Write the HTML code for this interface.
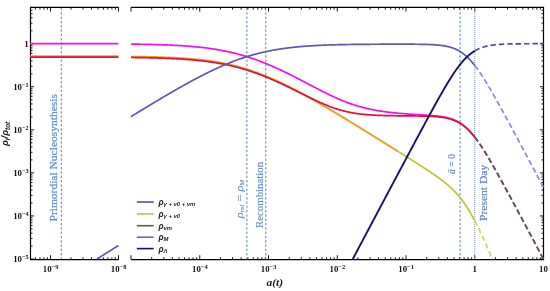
<!DOCTYPE html>
<html><head><meta charset="utf-8"><style>
html,body{margin:0;padding:0;background:#fff;}
body{width:550px;height:291px;overflow:hidden;position:relative;}
svg{position:absolute;left:0;top:0;will-change:transform;}
.tk{font-family:"Liberation Serif",serif;font-size:8.8px;fill:#111;font-weight:bold;}
.vt{font-family:"Liberation Serif",serif;font-size:10.4px;fill:#5d8cc0;}
.lg{font-family:"Liberation Sans",sans-serif;font-style:italic;font-weight:bold;fill:#1a1a1a;}
.ax{font-family:"Liberation Sans",sans-serif;font-style:italic;font-weight:bold;fill:#1a1a1a;}
.axs{font-family:"Liberation Serif",serif;font-style:italic;font-weight:bold;fill:#1a1a1a;}
</style></head><body>
<svg width="550" height="291" viewBox="0 0 550 291">
<path d="M118.60 7.35 L30.50 7.35 L30.50 259.55 L118.60 259.55" stroke="#000" stroke-width="1.2" fill="none"/>
<path d="M131.00 7.35 L543.50 7.35 L543.50 259.55 L131.00 259.55" stroke="#000" stroke-width="1.2" fill="none"/>
<path d="M35.41 259.55 v-2.30 M35.41 7.35 v2.30 M39.97 259.55 v-2.30 M39.97 7.35 v2.30 M43.91 259.55 v-2.30 M43.91 7.35 v2.30 M47.39 259.55 v-2.30 M47.39 7.35 v2.30 M50.50 259.55 v-4.30 M50.50 7.35 v4.30 M70.97 259.55 v-2.30 M70.97 7.35 v2.30 M82.94 259.55 v-2.30 M82.94 7.35 v2.30 M91.44 259.55 v-2.30 M91.44 7.35 v2.30 M98.03 259.55 v-2.30 M98.03 7.35 v2.30 M103.41 259.55 v-2.30 M103.41 7.35 v2.30 M107.97 259.55 v-2.30 M107.97 7.35 v2.30 M111.91 259.55 v-2.30 M111.91 7.35 v2.30 M115.39 259.55 v-2.30 M115.39 7.35 v2.30 M118.50 259.55 v-4.30 M118.50 7.35 v4.30 M131.00 259.55 v-4.30 M131.00 7.35 v4.30 M151.70 259.55 v-2.30 M151.70 7.35 v2.30 M163.80 259.55 v-2.30 M163.80 7.35 v2.30 M172.39 259.55 v-2.30 M172.39 7.35 v2.30 M179.05 259.55 v-2.30 M179.05 7.35 v2.30 M184.50 259.55 v-2.30 M184.50 7.35 v2.30 M189.10 259.55 v-2.30 M189.10 7.35 v2.30 M193.09 259.55 v-2.30 M193.09 7.35 v2.30 M196.60 259.55 v-2.30 M196.60 7.35 v2.30 M199.75 259.55 v-4.30 M199.75 7.35 v4.30 M220.45 259.55 v-2.30 M220.45 7.35 v2.30 M232.55 259.55 v-2.30 M232.55 7.35 v2.30 M241.14 259.55 v-2.30 M241.14 7.35 v2.30 M247.80 259.55 v-2.30 M247.80 7.35 v2.30 M253.25 259.55 v-2.30 M253.25 7.35 v2.30 M257.85 259.55 v-2.30 M257.85 7.35 v2.30 M261.84 259.55 v-2.30 M261.84 7.35 v2.30 M265.35 259.55 v-2.30 M265.35 7.35 v2.30 M268.50 259.55 v-4.30 M268.50 7.35 v4.30 M289.20 259.55 v-2.30 M289.20 7.35 v2.30 M301.30 259.55 v-2.30 M301.30 7.35 v2.30 M309.89 259.55 v-2.30 M309.89 7.35 v2.30 M316.55 259.55 v-2.30 M316.55 7.35 v2.30 M322.00 259.55 v-2.30 M322.00 7.35 v2.30 M326.60 259.55 v-2.30 M326.60 7.35 v2.30 M330.59 259.55 v-2.30 M330.59 7.35 v2.30 M334.10 259.55 v-2.30 M334.10 7.35 v2.30 M337.25 259.55 v-4.30 M337.25 7.35 v4.30 M357.95 259.55 v-2.30 M357.95 7.35 v2.30 M370.05 259.55 v-2.30 M370.05 7.35 v2.30 M378.64 259.55 v-2.30 M378.64 7.35 v2.30 M385.30 259.55 v-2.30 M385.30 7.35 v2.30 M390.75 259.55 v-2.30 M390.75 7.35 v2.30 M395.35 259.55 v-2.30 M395.35 7.35 v2.30 M399.34 259.55 v-2.30 M399.34 7.35 v2.30 M402.85 259.55 v-2.30 M402.85 7.35 v2.30 M406.00 259.55 v-4.30 M406.00 7.35 v4.30 M426.70 259.55 v-2.30 M426.70 7.35 v2.30 M438.80 259.55 v-2.30 M438.80 7.35 v2.30 M447.39 259.55 v-2.30 M447.39 7.35 v2.30 M454.05 259.55 v-2.30 M454.05 7.35 v2.30 M459.50 259.55 v-2.30 M459.50 7.35 v2.30 M464.10 259.55 v-2.30 M464.10 7.35 v2.30 M468.09 259.55 v-2.30 M468.09 7.35 v2.30 M471.60 259.55 v-2.30 M471.60 7.35 v2.30 M474.75 259.55 v-4.30 M474.75 7.35 v4.30 M495.45 259.55 v-2.30 M495.45 7.35 v2.30 M507.55 259.55 v-2.30 M507.55 7.35 v2.30 M516.14 259.55 v-2.30 M516.14 7.35 v2.30 M522.80 259.55 v-2.30 M522.80 7.35 v2.30 M528.25 259.55 v-2.30 M528.25 7.35 v2.30 M532.85 259.55 v-2.30 M532.85 7.35 v2.30 M536.84 259.55 v-2.30 M536.84 7.35 v2.30 M540.35 259.55 v-2.30 M540.35 7.35 v2.30 M543.50 259.55 v-4.30 M543.50 7.35 v4.30 M30.50 259.00 h3.60 M543.50 259.00 h-3.60 M30.50 246.04 h2.00 M543.50 246.04 h-2.00 M30.50 238.46 h2.00 M543.50 238.46 h-2.00 M30.50 233.08 h2.00 M543.50 233.08 h-2.00 M30.50 228.90 h2.00 M543.50 228.90 h-2.00 M30.50 225.49 h2.00 M543.50 225.49 h-2.00 M30.50 222.61 h2.00 M543.50 222.61 h-2.00 M30.50 220.11 h2.00 M543.50 220.11 h-2.00 M30.50 217.91 h2.00 M543.50 217.91 h-2.00 M30.50 215.94 h3.60 M543.50 215.94 h-3.60 M30.50 202.98 h2.00 M543.50 202.98 h-2.00 M30.50 195.40 h2.00 M543.50 195.40 h-2.00 M30.50 190.02 h2.00 M543.50 190.02 h-2.00 M30.50 185.84 h2.00 M543.50 185.84 h-2.00 M30.50 182.43 h2.00 M543.50 182.43 h-2.00 M30.50 179.55 h2.00 M543.50 179.55 h-2.00 M30.50 177.05 h2.00 M543.50 177.05 h-2.00 M30.50 174.85 h2.00 M543.50 174.85 h-2.00 M30.50 172.88 h3.60 M543.50 172.88 h-3.60 M30.50 159.92 h2.00 M543.50 159.92 h-2.00 M30.50 152.34 h2.00 M543.50 152.34 h-2.00 M30.50 146.96 h2.00 M543.50 146.96 h-2.00 M30.50 142.78 h2.00 M543.50 142.78 h-2.00 M30.50 139.37 h2.00 M543.50 139.37 h-2.00 M30.50 136.49 h2.00 M543.50 136.49 h-2.00 M30.50 133.99 h2.00 M543.50 133.99 h-2.00 M30.50 131.79 h2.00 M543.50 131.79 h-2.00 M30.50 129.82 h3.60 M543.50 129.82 h-3.60 M30.50 116.86 h2.00 M543.50 116.86 h-2.00 M30.50 109.28 h2.00 M543.50 109.28 h-2.00 M30.50 103.90 h2.00 M543.50 103.90 h-2.00 M30.50 99.72 h2.00 M543.50 99.72 h-2.00 M30.50 96.31 h2.00 M543.50 96.31 h-2.00 M30.50 93.43 h2.00 M543.50 93.43 h-2.00 M30.50 90.93 h2.00 M543.50 90.93 h-2.00 M30.50 88.73 h2.00 M543.50 88.73 h-2.00 M30.50 86.76 h3.60 M543.50 86.76 h-3.60 M30.50 73.80 h2.00 M543.50 73.80 h-2.00 M30.50 66.22 h2.00 M543.50 66.22 h-2.00 M30.50 60.84 h2.00 M543.50 60.84 h-2.00 M30.50 56.66 h2.00 M543.50 56.66 h-2.00 M30.50 53.25 h2.00 M543.50 53.25 h-2.00 M30.50 50.37 h2.00 M543.50 50.37 h-2.00 M30.50 47.87 h2.00 M543.50 47.87 h-2.00 M30.50 45.67 h2.00 M543.50 45.67 h-2.00 M30.50 43.70 h3.60 M543.50 43.70 h-3.60 M30.50 30.74 h2.00 M543.50 30.74 h-2.00 M30.50 23.16 h2.00 M543.50 23.16 h-2.00 M30.50 17.78 h2.00 M543.50 17.78 h-2.00 M30.50 13.60 h2.00 M543.50 13.60 h-2.00 M30.50 10.19 h2.00 M543.50 10.19 h-2.00 M30.50 7.31 h2.00 M543.50 7.31 h-2.00" stroke="#000" stroke-width="0.9" fill="none"/>
<path d="M61.30 7.95 V259.55" stroke="#5584b4" stroke-width="1" stroke-dasharray="2.4 1.9" fill="none"/>
<path d="M246.90 7.95 V259.55" stroke="#5584b4" stroke-width="1" stroke-dasharray="2.4 1.9" fill="none"/>
<path d="M265.80 7.95 V259.55" stroke="#5584b4" stroke-width="1" stroke-dasharray="2.4 1.9" fill="none"/>
<path d="M460.10 7.95 V259.55" stroke="#5584b4" stroke-width="1" stroke-dasharray="2.4 1.9" fill="none"/>
<path d="M474.75 7.95 V259.55" stroke="#7d94cc" stroke-width="1" stroke-dasharray="1 1" fill="none"/>
<path d="M30.03 43.70 L30.71 43.70 L31.39 43.70 L32.07 43.70 L32.75 43.70 L33.43 43.70 L34.11 43.70 L34.79 43.70 L35.47 43.70 L36.15 43.70 L36.83 43.70 L37.51 43.70 L38.19 43.70 L38.87 43.70 L39.55 43.70 L40.23 43.70 L40.91 43.70 L41.59 43.70 L42.27 43.70 L42.95 43.70 L43.63 43.70 L44.31 43.70 L44.99 43.70 L45.67 43.70 L46.35 43.70 L47.03 43.70 L47.71 43.70 L48.39 43.70 L49.07 43.70 L49.75 43.70 L50.43 43.70 L51.11 43.70 L51.79 43.70 L52.47 43.70 L53.15 43.70 L53.83 43.70 L54.51 43.70 L55.19 43.70 L55.87 43.70 L56.55 43.70 L57.23 43.70 L57.91 43.70 L58.59 43.70 L59.27 43.70 L59.95 43.70 L60.63 43.70 L61.31 43.70 L61.99 43.70 L62.67 43.70 L63.35 43.70 L64.03 43.70 L64.71 43.70 L65.39 43.70 L66.07 43.70 L66.75 43.70 L67.43 43.70 L68.11 43.70 L68.79 43.70 L69.47 43.70 L70.15 43.70 L70.83 43.70 L71.51 43.70 L72.19 43.70 L72.87 43.70 L73.55 43.70 L74.23 43.70 L74.91 43.70 L75.59 43.70 L76.27 43.70 L76.95 43.70 L77.63 43.70 L78.31 43.70 L78.99 43.70 L79.67 43.70 L80.35 43.70 L81.03 43.70 L81.71 43.70 L82.39 43.70 L83.07 43.70 L83.75 43.70 L84.43 43.70 L85.11 43.70 L85.79 43.70 L86.47 43.70 L87.15 43.70 L87.83 43.70 L88.51 43.70 L89.19 43.70 L89.87 43.70 L90.55 43.70 L91.23 43.70 L91.91 43.70 L92.59 43.70 L93.27 43.70 L93.95 43.70 L94.63 43.70 L95.31 43.70 L95.99 43.70 L96.67 43.70 L97.35 43.70 L98.03 43.70 L98.71 43.70 L99.39 43.70 L100.07 43.70 L100.75 43.70 L101.43 43.70 L102.11 43.70 L102.79 43.70 L103.47 43.70 L104.15 43.70 L104.83 43.70 L105.51 43.70 L106.19 43.70 L106.87 43.70 L107.55 43.70 L108.23 43.70 L108.91 43.70 L109.59 43.70 L110.27 43.70 L110.95 43.70 L111.63 43.70 L112.31 43.70 L112.99 43.70 L113.67 43.70 L114.35 43.70 L115.03 43.70 L115.71 43.70 L116.39 43.70 L117.07 43.70 L117.75 43.70 L118.43 43.70" stroke="#f80cf0" stroke-width="1.7" fill="none" stroke-linejoin="round"/>
<path d="M30.03 56.24 L30.71 56.24 L31.39 56.24 L32.07 56.24 L32.75 56.24 L33.43 56.24 L34.11 56.24 L34.79 56.24 L35.47 56.24 L36.15 56.24 L36.83 56.24 L37.51 56.24 L38.19 56.24 L38.87 56.24 L39.55 56.24 L40.23 56.24 L40.91 56.24 L41.59 56.24 L42.27 56.24 L42.95 56.24 L43.63 56.24 L44.31 56.24 L44.99 56.24 L45.67 56.24 L46.35 56.24 L47.03 56.24 L47.71 56.24 L48.39 56.24 L49.07 56.24 L49.75 56.24 L50.43 56.24 L51.11 56.24 L51.79 56.24 L52.47 56.24 L53.15 56.24 L53.83 56.24 L54.51 56.24 L55.19 56.24 L55.87 56.24 L56.55 56.24 L57.23 56.24 L57.91 56.24 L58.59 56.24 L59.27 56.24 L59.95 56.24 L60.63 56.24 L61.31 56.24 L61.99 56.24 L62.67 56.24 L63.35 56.24 L64.03 56.24 L64.71 56.24 L65.39 56.24 L66.07 56.24 L66.75 56.24 L67.43 56.24 L68.11 56.24 L68.79 56.24 L69.47 56.24 L70.15 56.24 L70.83 56.24 L71.51 56.24 L72.19 56.24 L72.87 56.24 L73.55 56.24 L74.23 56.24 L74.91 56.24 L75.59 56.24 L76.27 56.24 L76.95 56.24 L77.63 56.24 L78.31 56.24 L78.99 56.24 L79.67 56.24 L80.35 56.24 L81.03 56.24 L81.71 56.24 L82.39 56.24 L83.07 56.24 L83.75 56.24 L84.43 56.24 L85.11 56.24 L85.79 56.24 L86.47 56.24 L87.15 56.24 L87.83 56.24 L88.51 56.24 L89.19 56.24 L89.87 56.24 L90.55 56.24 L91.23 56.24 L91.91 56.24 L92.59 56.24 L93.27 56.24 L93.95 56.24 L94.63 56.24 L95.31 56.24 L95.99 56.24 L96.67 56.24 L97.35 56.24 L98.03 56.24 L98.71 56.24 L99.39 56.24 L100.07 56.24 L100.75 56.24 L101.43 56.24 L102.11 56.24 L102.79 56.24 L103.47 56.24 L104.15 56.24 L104.83 56.24 L105.51 56.24 L106.19 56.24 L106.87 56.24 L107.55 56.24 L108.23 56.24 L108.91 56.24 L109.59 56.24 L110.27 56.24 L110.95 56.24 L111.63 56.24 L112.31 56.24 L112.99 56.24 L113.67 56.24 L114.35 56.24 L115.03 56.24 L115.71 56.24 L116.39 56.24 L117.07 56.24 L117.75 56.24 L118.43 56.24" stroke="#e8a030" stroke-width="2.0" fill="none" stroke-linejoin="round"/>
<path d="M30.03 57.10 L30.71 57.10 L31.39 57.10 L32.07 57.10 L32.75 57.10 L33.43 57.10 L34.11 57.10 L34.79 57.10 L35.47 57.10 L36.15 57.10 L36.83 57.10 L37.51 57.10 L38.19 57.10 L38.87 57.10 L39.55 57.10 L40.23 57.10 L40.91 57.10 L41.59 57.10 L42.27 57.10 L42.95 57.10 L43.63 57.10 L44.31 57.10 L44.99 57.10 L45.67 57.10 L46.35 57.10 L47.03 57.10 L47.71 57.10 L48.39 57.10 L49.07 57.10 L49.75 57.10 L50.43 57.10 L51.11 57.10 L51.79 57.10 L52.47 57.10 L53.15 57.10 L53.83 57.10 L54.51 57.10 L55.19 57.10 L55.87 57.10 L56.55 57.10 L57.23 57.10 L57.91 57.10 L58.59 57.10 L59.27 57.10 L59.95 57.10 L60.63 57.10 L61.31 57.10 L61.99 57.10 L62.67 57.10 L63.35 57.10 L64.03 57.10 L64.71 57.10 L65.39 57.10 L66.07 57.10 L66.75 57.10 L67.43 57.10 L68.11 57.10 L68.79 57.10 L69.47 57.10 L70.15 57.10 L70.83 57.10 L71.51 57.10 L72.19 57.10 L72.87 57.10 L73.55 57.10 L74.23 57.10 L74.91 57.10 L75.59 57.10 L76.27 57.10 L76.95 57.10 L77.63 57.10 L78.31 57.10 L78.99 57.10 L79.67 57.10 L80.35 57.10 L81.03 57.10 L81.71 57.10 L82.39 57.10 L83.07 57.10 L83.75 57.10 L84.43 57.10 L85.11 57.10 L85.79 57.10 L86.47 57.10 L87.15 57.10 L87.83 57.10 L88.51 57.10 L89.19 57.10 L89.87 57.10 L90.55 57.10 L91.23 57.10 L91.91 57.10 L92.59 57.10 L93.27 57.10 L93.95 57.10 L94.63 57.10 L95.31 57.10 L95.99 57.10 L96.67 57.10 L97.35 57.10 L98.03 57.10 L98.71 57.10 L99.39 57.10 L100.07 57.10 L100.75 57.10 L101.43 57.10 L102.11 57.10 L102.79 57.10 L103.47 57.10 L104.15 57.10 L104.83 57.10 L105.51 57.10 L106.19 57.10 L106.87 57.10 L107.55 57.10 L108.23 57.10 L108.91 57.10 L109.59 57.10 L110.27 57.10 L110.95 57.10 L111.63 57.10 L112.31 57.10 L112.99 57.10 L113.67 57.10 L114.35 57.10 L115.03 57.10 L115.71 57.10 L116.39 57.10 L117.07 57.10 L117.75 57.10 L118.43 57.10" stroke="#e0103c" stroke-width="1.7" fill="none" stroke-linejoin="round"/>
<path d="M96.92 259.10 L97.35 258.83 L98.03 258.40 L98.71 257.97 L99.39 257.54 L100.07 257.11 L100.75 256.67 L101.43 256.24 L102.11 255.81 L102.79 255.38 L103.47 254.95 L104.15 254.52 L104.83 254.09 L105.51 253.66 L106.19 253.23 L106.87 252.80 L107.55 252.37 L108.23 251.94 L108.91 251.51 L109.59 251.08 L110.27 250.65 L110.95 250.22 L111.63 249.79 L112.31 249.35 L112.99 248.92 L113.67 248.49 L114.35 248.06 L115.03 247.63 L115.71 247.20 L116.39 246.77 L117.07 246.34 L117.75 245.91 L118.43 245.48" stroke="#5e56b8" stroke-width="1.7" fill="none" stroke-linejoin="round"/>

<path d="M131.00 44.08 L131.69 44.09 L132.37 44.10 L133.06 44.11 L133.75 44.12 L134.44 44.13 L135.12 44.14 L135.81 44.15 L136.50 44.16 L137.19 44.17 L137.87 44.18 L138.56 44.19 L139.25 44.20 L139.94 44.21 L140.62 44.23 L141.31 44.24 L142.00 44.25 L142.69 44.26 L143.37 44.28 L144.06 44.29 L144.75 44.30 L145.44 44.32 L146.12 44.33 L146.81 44.34 L147.50 44.36 L148.19 44.37 L148.87 44.39 L149.56 44.41 L150.25 44.42 L150.94 44.44 L151.62 44.46 L152.31 44.47 L153.00 44.49 L153.69 44.51 L154.37 44.53 L155.06 44.55 L155.75 44.56 L156.44 44.58 L157.12 44.60 L157.81 44.62 L158.50 44.65 L159.19 44.67 L159.87 44.69 L160.56 44.71 L161.25 44.73 L161.94 44.76 L162.62 44.78 L163.31 44.81 L164.00 44.83 L164.69 44.86 L165.37 44.88 L166.06 44.91 L166.75 44.94 L167.44 44.97 L168.12 44.99 L168.81 45.02 L169.50 45.05 L170.19 45.08 L170.87 45.11 L171.56 45.15 L172.25 45.18 L172.94 45.21 L173.62 45.24 L174.31 45.28 L175.00 45.31 L175.69 45.35 L176.37 45.39 L177.06 45.42 L177.75 45.46 L178.44 45.50 L179.12 45.54 L179.81 45.58 L180.50 45.62 L181.19 45.67 L181.87 45.71 L182.56 45.76 L183.25 45.80 L183.94 45.85 L184.62 45.89 L185.31 45.94 L186.00 45.99 L186.69 46.04 L187.37 46.09 L188.06 46.14 L188.75 46.20 L189.44 46.25 L190.12 46.31 L190.81 46.36 L191.50 46.42 L192.19 46.48 L192.87 46.54 L193.56 46.60 L194.25 46.66 L194.94 46.73 L195.62 46.79 L196.31 46.86 L197.00 46.93 L197.69 47.00 L198.37 47.07 L199.06 47.14 L199.75 47.21 L200.44 47.29 L201.12 47.36 L201.81 47.44 L202.50 47.52 L203.19 47.60 L203.87 47.68 L204.56 47.76 L205.25 47.85 L205.94 47.93 L206.62 48.02 L207.31 48.11 L208.00 48.20 L208.69 48.30 L209.37 48.39 L210.06 48.49 L210.75 48.59 L211.44 48.69 L212.12 48.79 L212.81 48.89 L213.50 49.00 L214.19 49.10 L214.87 49.21 L215.56 49.32 L216.25 49.44 L216.94 49.55 L217.62 49.67 L218.31 49.79 L219.00 49.91 L219.69 50.03 L220.37 50.15 L221.06 50.28 L221.75 50.41 L222.44 50.54 L223.12 50.67 L223.81 50.81 L224.50 50.94 L225.19 51.08 L225.87 51.23 L226.56 51.37 L227.25 51.52 L227.94 51.66 L228.62 51.81 L229.31 51.97 L230.00 52.12 L230.69 52.28 L231.37 52.44 L232.06 52.60 L232.75 52.76 L233.44 52.93 L234.12 53.10 L234.81 53.27 L235.50 53.44 L236.19 53.62 L236.87 53.80 L237.56 53.98 L238.25 54.16 L238.94 54.35 L239.62 54.54 L240.31 54.73 L241.00 54.92 L241.69 55.12 L242.37 55.31 L243.06 55.51 L243.75 55.72 L244.44 55.92 L245.12 56.13 L245.81 56.34 L246.50 56.55 L247.19 56.77 L247.87 56.98 L248.56 57.20 L249.25 57.43 L249.94 57.65 L250.62 57.88 L251.31 58.11 L252.00 58.34 L252.69 58.58 L253.37 58.81 L254.06 59.05 L254.75 59.29 L255.44 59.54 L256.12 59.79 L256.81 60.03 L257.50 60.29 L258.19 60.54 L258.87 60.80 L259.56 61.05 L260.25 61.32 L260.94 61.58 L261.62 61.84 L262.31 62.11 L263.00 62.38 L263.69 62.66 L264.37 62.93 L265.06 63.21 L265.75 63.49 L266.44 63.77 L267.12 64.05 L267.81 64.34 L268.50 64.62 L269.19 64.91 L269.87 65.21 L270.56 65.50 L271.25 65.80 L271.94 66.09 L272.62 66.39 L273.31 66.70 L274.00 67.00 L274.69 67.31 L275.37 67.61 L276.06 67.92 L276.75 68.23 L277.44 68.55 L278.12 68.86 L278.81 69.18 L279.50 69.50 L280.19 69.82 L280.87 70.14 L281.56 70.47 L282.25 70.79 L282.94 71.12 L283.62 71.45 L284.31 71.78 L285.00 72.11 L285.69 72.44 L286.37 72.78 L287.06 73.11 L287.75 73.45 L288.44 73.79 L289.12 74.13 L289.81 74.47 L290.50 74.81 L291.19 75.15 L291.87 75.50 L292.56 75.84 L293.25 76.19 L293.94 76.54 L294.62 76.89 L295.31 77.24 L296.00 77.59 L296.69 77.94 L297.37 78.29 L298.06 78.65 L298.75 79.00 L299.44 79.36 L300.12 79.71 L300.81 80.07 L301.50 80.43 L302.19 80.78 L302.87 81.14 L303.56 81.50 L304.25 81.86 L304.94 82.22 L305.62 82.58 L306.31 82.94 L307.00 83.30 L307.69 83.66 L308.37 84.02 L309.06 84.38 L309.75 84.74 L310.44 85.10 L311.12 85.46 L311.81 85.82 L312.50 86.18 L313.19 86.54 L313.87 86.90 L314.56 87.26 L315.25 87.61 L315.94 87.97 L316.62 88.33 L317.31 88.69 L318.00 89.04 L318.69 89.40 L319.37 89.75 L320.06 90.10 L320.75 90.45 L321.44 90.80 L322.12 91.15 L322.81 91.50 L323.50 91.85 L324.19 92.19 L324.87 92.54 L325.56 92.88 L326.25 93.22 L326.94 93.56 L327.62 93.90 L328.31 94.23 L329.00 94.57 L329.69 94.90 L330.37 95.23 L331.06 95.56 L331.75 95.88 L332.44 96.20 L333.12 96.52 L333.81 96.84 L334.50 97.16 L335.19 97.47 L335.87 97.78 L336.56 98.09 L337.25 98.39 L337.94 98.70 L338.62 99.00 L339.31 99.29 L340.00 99.59 L340.69 99.88 L341.37 100.16 L342.06 100.45 L342.75 100.73 L343.44 101.01 L344.12 101.28 L344.81 101.55 L345.50 101.82 L346.19 102.08 L346.87 102.35 L347.56 102.60 L348.25 102.86 L348.94 103.11 L349.62 103.36 L350.31 103.60 L351.00 103.84 L351.69 104.08 L352.37 104.31 L353.06 104.54 L353.75 104.77 L354.44 104.99 L355.12 105.21 L355.81 105.42 L356.50 105.64 L357.19 105.85 L357.87 106.05 L358.56 106.25 L359.25 106.45 L359.94 106.65 L360.62 106.84 L361.31 107.03 L362.00 107.21 L362.69 107.39 L363.37 107.57 L364.06 107.75 L364.75 107.92 L365.44 108.09 L366.12 108.26 L366.81 108.42 L367.50 108.58 L368.19 108.73 L368.87 108.89 L369.56 109.04 L370.25 109.19 L370.94 109.33 L371.62 109.47 L372.31 109.61 L373.00 109.75 L373.69 109.88 L374.37 110.01 L375.06 110.14 L375.75 110.27 L376.44 110.39 L377.12 110.51 L377.81 110.63 L378.50 110.75 L379.19 110.86 L379.87 110.97 L380.56 111.08 L381.25 111.19 L381.94 111.29 L382.62 111.39 L383.31 111.49 L384.00 111.59 L384.69 111.69 L385.37 111.78 L386.06 111.87 L386.75 111.96 L387.44 112.05 L388.12 112.14 L388.81 112.22 L389.50 112.30 L390.19 112.38 L390.87 112.46 L391.56 112.54 L392.25 112.62 L392.94 112.69 L393.62 112.76 L394.31 112.84 L395.00 112.91 L395.69 112.97 L396.37 113.04 L397.06 113.11 L397.75 113.17 L398.44 113.23 L399.12 113.30 L399.81 113.36 L400.50 113.42 L401.19 113.47 L401.87 113.53 L402.56 113.59 L403.25 113.64 L403.94 113.69 L404.62 113.75 L405.31 113.80 L406.00 113.85 L406.69 113.90 L407.37 113.95 L408.06 114.00 L408.75 114.05 L409.44 114.09 L410.12 114.14 L410.81 114.18 L411.50 114.23 L412.19 114.27 L412.87 114.32 L413.56 114.36 L414.25 114.40 L414.94 114.45 L415.62 114.49 L416.31 114.53 L417.00 114.57 L417.69 114.61 L418.37 114.65 L419.06 114.69 L419.75 114.74 L420.44 114.78 L421.12 114.82 L421.81 114.86 L422.50 114.90 L423.19 114.94 L423.87 114.99 L424.56 115.03 L425.25 115.07 L425.94 115.12 L426.62 115.16 L427.31 115.21 L428.00 115.26 L428.69 115.30 L429.37 115.35 L430.06 115.40 L430.75 115.46 L431.44 115.51 L432.12 115.57 L432.81 115.63 L433.50 115.69 L434.19 115.75 L434.87 115.81 L435.56 115.88 L436.25 115.95 L436.94 116.03 L437.62 116.10 L438.31 116.19 L439.00 116.27 L439.69 116.36 L440.37 116.45 L441.06 116.55 L441.75 116.66 L442.44 116.77 L443.12 116.88 L443.81 117.01 L444.50 117.14 L445.19 117.27 L445.87 117.42 L446.56 117.57 L447.25 117.73 L447.94 117.90 L448.62 118.08 L449.31 118.27 L450.00 118.47 L450.69 118.68 L451.37 118.90 L452.06 119.14 L452.75 119.38 L453.44 119.65 L454.12 119.92 L454.81 120.21 L455.50 120.52 L456.19 120.84 L456.87 121.17 L457.56 121.53 L458.25 121.90 L458.94 122.29 L459.62 122.70 L460.31 123.13 L461.00 123.58 L461.69 124.04 L462.37 124.53 L463.06 125.04 L463.75 125.57 L464.44 126.12 L465.12 126.70 L465.81 127.29 L466.50 127.91 L467.19 128.55 L467.87 129.21 L468.56 129.90 L469.25 130.60 L469.94 131.33 L470.62 132.08 L471.31 132.85 L472.00 133.64 L472.69 134.46 L473.37 135.29 L474.06 136.15 L474.75 137.02" stroke="#f80cf0" stroke-width="1.7" fill="none" stroke-linejoin="round"/>
<path d="M131.00 56.62 L131.69 56.63 L132.37 56.64 L133.06 56.65 L133.75 56.66 L134.44 56.67 L135.12 56.68 L135.81 56.69 L136.50 56.70 L137.19 56.71 L137.87 56.72 L138.56 56.73 L139.25 56.74 L139.94 56.75 L140.62 56.76 L141.31 56.78 L142.00 56.79 L142.69 56.80 L143.37 56.81 L144.06 56.83 L144.75 56.84 L145.44 56.85 L146.12 56.87 L146.81 56.88 L147.50 56.90 L148.19 56.91 L148.87 56.93 L149.56 56.94 L150.25 56.96 L150.94 56.98 L151.62 56.99 L152.31 57.01 L153.00 57.03 L153.69 57.05 L154.37 57.06 L155.06 57.08 L155.75 57.10 L156.44 57.12 L157.12 57.14 L157.81 57.16 L158.50 57.18 L159.19 57.21 L159.87 57.23 L160.56 57.25 L161.25 57.27 L161.94 57.30 L162.62 57.32 L163.31 57.34 L164.00 57.37 L164.69 57.40 L165.37 57.42 L166.06 57.45 L166.75 57.48 L167.44 57.50 L168.12 57.53 L168.81 57.56 L169.50 57.59 L170.19 57.62 L170.87 57.65 L171.56 57.68 L172.25 57.72 L172.94 57.75 L173.62 57.78 L174.31 57.82 L175.00 57.85 L175.69 57.89 L176.37 57.93 L177.06 57.96 L177.75 58.00 L178.44 58.04 L179.12 58.08 L179.81 58.12 L180.50 58.16 L181.19 58.21 L181.87 58.25 L182.56 58.29 L183.25 58.34 L183.94 58.38 L184.62 58.43 L185.31 58.48 L186.00 58.53 L186.69 58.58 L187.37 58.63 L188.06 58.68 L188.75 58.74 L189.44 58.79 L190.12 58.85 L190.81 58.90 L191.50 58.96 L192.19 59.02 L192.87 59.08 L193.56 59.14 L194.25 59.20 L194.94 59.27 L195.62 59.33 L196.31 59.40 L197.00 59.47 L197.69 59.53 L198.37 59.61 L199.06 59.68 L199.75 59.75 L200.44 59.82 L201.12 59.90 L201.81 59.98 L202.50 60.06 L203.19 60.14 L203.87 60.22 L204.56 60.30 L205.25 60.39 L205.94 60.47 L206.62 60.56 L207.31 60.65 L208.00 60.74 L208.69 60.84 L209.37 60.93 L210.06 61.03 L210.75 61.12 L211.44 61.22 L212.12 61.33 L212.81 61.43 L213.50 61.53 L214.19 61.64 L214.87 61.75 L215.56 61.86 L216.25 61.97 L216.94 62.09 L217.62 62.21 L218.31 62.32 L219.00 62.45 L219.69 62.57 L220.37 62.69 L221.06 62.82 L221.75 62.95 L222.44 63.08 L223.12 63.21 L223.81 63.35 L224.50 63.48 L225.19 63.62 L225.87 63.77 L226.56 63.91 L227.25 64.06 L227.94 64.20 L228.62 64.35 L229.31 64.51 L230.00 64.66 L230.69 64.82 L231.37 64.98 L232.06 65.14 L232.75 65.31 L233.44 65.47 L234.12 65.64 L234.81 65.81 L235.50 65.99 L236.19 66.16 L236.87 66.34 L237.56 66.52 L238.25 66.71 L238.94 66.89 L239.62 67.08 L240.31 67.27 L241.00 67.46 L241.69 67.66 L242.37 67.86 L243.06 68.06 L243.75 68.26 L244.44 68.47 L245.12 68.67 L245.81 68.89 L246.50 69.10 L247.19 69.31 L247.87 69.53 L248.56 69.75 L249.25 69.97 L249.94 70.20 L250.62 70.43 L251.31 70.66 L252.00 70.89 L252.69 71.13 L253.37 71.36 L254.06 71.60 L254.75 71.85 L255.44 72.09 L256.12 72.34 L256.81 72.59 L257.50 72.84 L258.19 73.10 L258.87 73.35 L259.56 73.61 L260.25 73.88 L260.94 74.14 L261.62 74.41 L262.31 74.68 L263.00 74.95 L263.69 75.22 L264.37 75.50 L265.06 75.77 L265.75 76.06 L266.44 76.34 L267.12 76.62 L267.81 76.91 L268.50 77.20 L269.19 77.49 L269.87 77.78 L270.56 78.08 L271.25 78.38 L271.94 78.68 L272.62 78.98 L273.31 79.29 L274.00 79.59 L274.69 79.90 L275.37 80.21 L276.06 80.52 L276.75 80.84 L277.44 81.15 L278.12 81.47 L278.81 81.79 L279.50 82.12 L280.19 82.44 L280.87 82.77 L281.56 83.09 L282.25 83.42 L282.94 83.75 L283.62 84.09 L284.31 84.42 L285.00 84.76 L285.69 85.10 L286.37 85.44 L287.06 85.78 L287.75 86.12 L288.44 86.47 L289.12 86.81 L289.81 87.16 L290.50 87.51 L291.19 87.86 L291.87 88.21 L292.56 88.57 L293.25 88.92 L293.94 89.28 L294.62 89.64 L295.31 90.00 L296.00 90.36 L296.69 90.72 L297.37 91.09 L298.06 91.45 L298.75 91.82 L299.44 92.19 L300.12 92.56 L300.81 92.93 L301.50 93.30 L302.19 93.67 L302.87 94.05 L303.56 94.42 L304.25 94.80 L304.94 95.18 L305.62 95.55 L306.31 95.93 L307.00 96.31 L307.69 96.70 L308.37 97.08 L309.06 97.46 L309.75 97.85 L310.44 98.23 L311.12 98.62 L311.81 99.01 L312.50 99.40 L313.19 99.79 L313.87 100.18 L314.56 100.57 L315.25 100.96 L315.94 101.36 L316.62 101.75 L317.31 102.14 L318.00 102.54 L318.69 102.94 L319.37 103.33 L320.06 103.73 L320.75 104.13 L321.44 104.53 L322.12 104.93 L322.81 105.33 L323.50 105.73 L324.19 106.14 L324.87 106.54 L325.56 106.94 L326.25 107.35 L326.94 107.75 L327.62 108.16 L328.31 108.56 L329.00 108.97 L329.69 109.38 L330.37 109.79 L331.06 110.19 L331.75 110.60 L332.44 111.01 L333.12 111.42 L333.81 111.83 L334.50 112.25 L335.19 112.66 L335.87 113.07 L336.56 113.48 L337.25 113.90 L337.94 114.31 L338.62 114.72 L339.31 115.14 L340.00 115.55 L340.69 115.97 L341.37 116.38 L342.06 116.80 L342.75 117.22 L343.44 117.63 L344.12 118.05 L344.81 118.47 L345.50 118.89 L346.19 119.30 L346.87 119.72 L347.56 120.14 L348.25 120.56 L348.94 120.98 L349.62 121.40 L350.31 121.82 L351.00 122.24 L351.69 122.66 L352.37 123.08 L353.06 123.50 L353.75 123.93 L354.44 124.35 L355.12 124.77 L355.81 125.19 L356.50 125.61 L357.19 126.04 L357.87 126.46 L358.56 126.88 L359.25 127.31 L359.94 127.73 L360.62 128.15 L361.31 128.58 L362.00 129.00 L362.69 129.43 L363.37 129.85 L364.06 130.28 L364.75 130.70 L365.44 131.13 L366.12 131.55 L366.81 131.98 L367.50 132.40 L368.19 132.83 L368.87 133.25 L369.56 133.68 L370.25 134.11 L370.94 134.53 L371.62 134.96 L372.31 135.38 L373.00 135.81 L373.69 136.24 L374.37 136.66 L375.06 137.09 L375.75 137.52 L376.44 137.95 L377.12 138.37 L377.81 138.80 L378.50 139.23 L379.19 139.66 L379.87 140.08 L380.56 140.51 L381.25 140.94 L381.94 141.37 L382.62 141.79 L383.31 142.22 L384.00 142.65 L384.69 143.08 L385.37 143.51 L386.06 143.94 L386.75 144.37 L387.44 144.79 L388.12 145.22 L388.81 145.65 L389.50 146.08 L390.19 146.51 L390.87 146.94 L391.56 147.37 L392.25 147.80 L392.94 148.23 L393.62 148.66 L394.31 149.09 L395.00 149.52 L395.69 149.95 L396.37 150.38 L397.06 150.81 L397.75 151.24 L398.44 151.67" stroke="#e8a030" stroke-width="2.0" fill="none" stroke-linejoin="round"/>
<path d="M398.66 151.80 L399.34 152.23 L400.03 152.66 L400.72 153.09 L401.41 153.53 L402.09 153.96 L402.78 154.39 L403.47 154.82 L404.16 155.25 L404.84 155.68 L405.53 156.11 L406.22 156.55 L406.91 156.98 L407.59 157.41 L408.28 157.84 L408.97 158.28 L409.66 158.71 L410.34 159.14 L411.03 159.58 L411.72 160.01 L412.41 160.45 L413.09 160.88 L413.78 161.32 L414.47 161.75 L415.16 162.19 L415.84 162.63 L416.53 163.06 L417.22 163.50 L417.91 163.94 L418.59 164.38 L419.28 164.82 L419.97 165.26 L420.66 165.70 L421.34 166.14 L422.03 166.59 L422.72 167.03 L423.41 167.48 L424.09 167.92 L424.78 168.37 L425.47 168.82 L426.16 169.27 L426.84 169.72 L427.53 170.17 L428.22 170.63 L428.91 171.08 L429.59 171.54 L430.28 172.00 L430.97 172.46 L431.66 172.93 L432.34 173.39 L433.03 173.86 L433.72 174.33 L434.41 174.81 L435.09 175.29 L435.78 175.77 L436.47 176.25 L437.16 176.74 L437.84 177.23 L438.53 177.73 L439.22 178.23 L439.91 178.74 L440.59 179.25 L441.28 179.76 L441.97 180.28 L442.66 180.81 L443.34 181.35 L444.03 181.89 L444.72 182.44 L445.41 182.99 L446.09 183.56 L446.78 184.13 L447.47 184.71 L448.16 185.30 L448.84 185.90 L449.53 186.51 L450.22 187.14 L450.91 187.77 L451.59 188.42 L452.28 189.08 L452.97 189.75 L453.66 190.43 L454.34 191.14 L455.03 191.85 L455.72 192.58 L456.41 193.33 L457.09 194.09 L457.78 194.88 L458.47 195.68 L459.16 196.50 L459.84 197.33 L460.53 198.19 L461.22 199.07 L461.91 199.96 L462.59 200.88 L463.28 201.82 L463.97 202.78 L464.66 203.76 L465.34 204.77 L466.03 205.79 L466.72 206.84 L467.41 207.91 L468.09 209.01 L468.78 210.12 L469.47 211.26 L470.16 212.42 L470.84 213.60 L471.53 214.80 L472.22 216.03 L472.91 217.27 L473.59 218.54 L474.28 219.83" stroke="#c4c038" stroke-width="1.7" fill="none" stroke-linejoin="round"/>
<path d="M131.00 57.48 L131.69 57.49 L132.37 57.50 L133.06 57.51 L133.75 57.52 L134.44 57.53 L135.12 57.53 L135.81 57.54 L136.50 57.56 L137.19 57.57 L137.87 57.58 L138.56 57.59 L139.25 57.60 L139.94 57.61 L140.62 57.62 L141.31 57.63 L142.00 57.65 L142.69 57.66 L143.37 57.67 L144.06 57.69 L144.75 57.70 L145.44 57.71 L146.12 57.73 L146.81 57.74 L147.50 57.76 L148.19 57.77 L148.87 57.79 L149.56 57.80 L150.25 57.82 L150.94 57.83 L151.62 57.85 L152.31 57.87 L153.00 57.89 L153.69 57.90 L154.37 57.92 L155.06 57.94 L155.75 57.96 L156.44 57.98 L157.12 58.00 L157.81 58.02 L158.50 58.04 L159.19 58.06 L159.87 58.09 L160.56 58.11 L161.25 58.13 L161.94 58.15 L162.62 58.18 L163.31 58.20 L164.00 58.23 L164.69 58.25 L165.37 58.28 L166.06 58.31 L166.75 58.33 L167.44 58.36 L168.12 58.39 L168.81 58.42 L169.50 58.45 L170.19 58.48 L170.87 58.51 L171.56 58.54 L172.25 58.57 L172.94 58.61 L173.62 58.64 L174.31 58.68 L175.00 58.71 L175.69 58.75 L176.37 58.78 L177.06 58.82 L177.75 58.86 L178.44 58.90 L179.12 58.94 L179.81 58.98 L180.50 59.02 L181.19 59.06 L181.87 59.11 L182.56 59.15 L183.25 59.20 L183.94 59.24 L184.62 59.29 L185.31 59.34 L186.00 59.39 L186.69 59.44 L187.37 59.49 L188.06 59.54 L188.75 59.59 L189.44 59.65 L190.12 59.70 L190.81 59.76 L191.50 59.82 L192.19 59.88 L192.87 59.94 L193.56 60.00 L194.25 60.06 L194.94 60.12 L195.62 60.19 L196.31 60.26 L197.00 60.32 L197.69 60.39 L198.37 60.46 L199.06 60.53 L199.75 60.61 L200.44 60.68 L201.12 60.76 L201.81 60.84 L202.50 60.91 L203.19 60.99 L203.87 61.08 L204.56 61.16 L205.25 61.24 L205.94 61.33 L206.62 61.42 L207.31 61.51 L208.00 61.60 L208.69 61.69 L209.37 61.79 L210.06 61.88 L210.75 61.98 L211.44 62.08 L212.12 62.18 L212.81 62.29 L213.50 62.39 L214.19 62.50 L214.87 62.61 L215.56 62.72 L216.25 62.83 L216.94 62.95 L217.62 63.06 L218.31 63.18 L219.00 63.30 L219.69 63.42 L220.37 63.55 L221.06 63.67 L221.75 63.80 L222.44 63.93 L223.12 64.07 L223.81 64.20 L224.50 64.34 L225.19 64.48 L225.87 64.62 L226.56 64.76 L227.25 64.91 L227.94 65.06 L228.62 65.21 L229.31 65.36 L230.00 65.51 L230.69 65.67 L231.37 65.83 L232.06 65.99 L232.75 66.16 L233.44 66.32 L234.12 66.49 L234.81 66.66 L235.50 66.84 L236.19 67.01 L236.87 67.19 L237.56 67.37 L238.25 67.55 L238.94 67.74 L239.62 67.93 L240.31 68.12 L241.00 68.31 L241.69 68.51 L242.37 68.70 L243.06 68.90 L243.75 69.11 L244.44 69.31 L245.12 69.52 L245.81 69.73 L246.50 69.94 L247.19 70.15 L247.87 70.37 L248.56 70.59 L249.25 70.81 L249.94 71.04 L250.62 71.26 L251.31 71.49 L252.00 71.72 L252.69 71.96 L253.37 72.19 L254.06 72.43 L254.75 72.68 L255.44 72.92 L256.12 73.16 L256.81 73.41 L257.50 73.66 L258.19 73.92 L258.87 74.17 L259.56 74.43 L260.25 74.69 L260.94 74.95 L261.62 75.22 L262.31 75.48 L263.00 75.75 L263.69 76.02 L264.37 76.30 L265.06 76.57 L265.75 76.85 L266.44 77.13 L267.12 77.41 L267.81 77.70 L268.50 77.98 L269.19 78.27 L269.87 78.56 L270.56 78.85 L271.25 79.14 L271.94 79.44 L272.62 79.74 L273.31 80.04 L274.00 80.34 L274.69 80.64 L275.37 80.95 L276.06 81.25 L276.75 81.56 L277.44 81.87 L278.12 82.19 L278.81 82.50 L279.50 82.81 L280.19 83.13 L280.87 83.45 L281.56 83.77 L282.25 84.09 L282.94 84.41 L283.62 84.74 L284.31 85.06 L285.00 85.39 L285.69 85.71 L286.37 86.04 L287.06 86.37 L287.75 86.70 L288.44 87.04 L289.12 87.37 L289.81 87.70 L290.50 88.04 L291.19 88.37 L291.87 88.71 L292.56 89.05 L293.25 89.39 L293.94 89.73 L294.62 90.06 L295.31 90.40 L296.00 90.74 L296.69 91.09 L297.37 91.43 L298.06 91.77 L298.75 92.11 L299.44 92.45 L300.12 92.79 L300.81 93.14 L301.50 93.48 L302.19 93.82 L302.87 94.16 L303.56 94.50 L304.25 94.85 L304.94 95.19 L305.62 95.53 L306.31 95.87 L307.00 96.21 L307.69 96.55 L308.37 96.88 L309.06 97.22 L309.75 97.56 L310.44 97.89 L311.12 98.23 L311.81 98.56 L312.50 98.89 L313.19 99.22 L313.87 99.55 L314.56 99.87 L315.25 100.20 L315.94 100.52 L316.62 100.84 L317.31 101.16 L318.00 101.48 L318.69 101.80 L319.37 102.11 L320.06 102.42 L320.75 102.73 L321.44 103.03 L322.12 103.34 L322.81 103.64 L323.50 103.93 L324.19 104.23 L324.87 104.52 L325.56 104.80 L326.25 105.09 L326.94 105.37 L327.62 105.65 L328.31 105.92 L329.00 106.19 L329.69 106.46 L330.37 106.72 L331.06 106.98 L331.75 107.23 L332.44 107.48 L333.12 107.73 L333.81 107.97 L334.50 108.21 L335.19 108.45 L335.87 108.68 L336.56 108.90 L337.25 109.12 L337.94 109.34 L338.62 109.55 L339.31 109.76 L340.00 109.96 L340.69 110.16 L341.37 110.35 L342.06 110.54 L342.75 110.73 L343.44 110.91 L344.12 111.08 L344.81 111.25 L345.50 111.42 L346.19 111.58 L346.87 111.74 L347.56 111.89 L348.25 112.04 L348.94 112.19 L349.62 112.33 L350.31 112.46 L351.00 112.59 L351.69 112.72 L352.37 112.85 L353.06 112.97 L353.75 113.08 L354.44 113.19 L355.12 113.30 L355.81 113.41 L356.50 113.51 L357.19 113.61 L357.87 113.70 L358.56 113.79 L359.25 113.88 L359.94 113.97 L360.62 114.05 L361.31 114.13 L362.00 114.20 L362.69 114.28 L363.37 114.35 L364.06 114.41 L364.75 114.48 L365.44 114.54 L366.12 114.60 L366.81 114.66 L367.50 114.71 L368.19 114.77 L368.87 114.82 L369.56 114.87 L370.25 114.91 L370.94 114.96 L371.62 115.00 L372.31 115.04 L373.00 115.08 L373.69 115.12 L374.37 115.16 L375.06 115.19 L375.75 115.23 L376.44 115.26 L377.12 115.29 L377.81 115.32 L378.50 115.35 L379.19 115.37 L379.87 115.40 L380.56 115.42 L381.25 115.45 L381.94 115.47 L382.62 115.49 L383.31 115.51 L384.00 115.53 L384.69 115.55 L385.37 115.57 L386.06 115.58 L386.75 115.60 L387.44 115.62 L388.12 115.63 L388.81 115.65 L389.50 115.66 L390.19 115.67 L390.87 115.69 L391.56 115.70 L392.25 115.71 L392.94 115.72 L393.62 115.73 L394.31 115.74 L395.00 115.75 L395.69 115.76 L396.37 115.77 L397.06 115.78 L397.75 115.79 L398.44 115.80 L399.12 115.81 L399.81 115.81 L400.50 115.82 L401.19 115.83 L401.87 115.84 L402.56 115.84 L403.25 115.85 L403.94 115.86 L404.62 115.86 L405.31 115.87 L406.00 115.88 L406.69 115.88 L407.37 115.89 L408.06 115.90 L408.75 115.90 L409.44 115.91 L410.12 115.92 L410.81 115.93 L411.50 115.93 L412.19 115.94 L412.87 115.95 L413.56 115.96 L414.25 115.96 L414.94 115.97 L415.62 115.98 L416.31 115.99 L417.00 116.00 L417.69 116.01 L418.37 116.02 L419.06 116.03 L419.75 116.04 L420.44 116.06 L421.12 116.07 L421.81 116.08 L422.50 116.10 L423.19 116.12 L423.87 116.13 L424.56 116.15 L425.25 116.17 L425.94 116.19 L426.62 116.21 L427.31 116.23 L428.00 116.26 L428.69 116.28 L429.37 116.31 L430.06 116.34 L430.75 116.37 L431.44 116.41 L432.12 116.44 L432.81 116.48 L433.50 116.52 L434.19 116.57 L434.87 116.61 L435.56 116.66 L436.25 116.72 L436.94 116.77 L437.62 116.84 L438.31 116.90 L439.00 116.97 L439.69 117.04 L440.37 117.12 L441.06 117.21 L441.75 117.30 L442.44 117.39 L443.12 117.50 L443.81 117.60 L444.50 117.72 L445.19 117.84 L445.87 117.97 L446.56 118.11 L447.25 118.26 L447.94 118.42 L448.62 118.59 L449.31 118.77 L450.00 118.95 L450.69 119.15 L451.37 119.37 L452.06 119.59 L452.75 119.83 L453.44 120.08 L454.12 120.35 L454.81 120.63 L455.50 120.92 L456.19 121.23 L456.87 121.56 L457.56 121.91 L458.25 122.27 L458.94 122.65 L459.62 123.05 L460.31 123.47 L461.00 123.91 L461.69 124.38 L462.37 124.86 L463.06 125.36 L463.75 125.88 L464.44 126.43 L465.12 126.99 L465.81 127.58 L466.50 128.19 L467.19 128.83 L467.87 129.48 L468.56 130.16 L469.25 130.86 L469.94 131.58 L470.62 132.33 L471.31 133.09 L472.00 133.88 L472.69 134.69 L473.37 135.52 L474.06 136.36 L474.75 137.23" stroke="#e0103c" stroke-width="1.7" fill="none" stroke-linejoin="round"/>
<path d="M131.00 116.64 L131.69 116.21 L132.37 115.79 L133.06 115.37 L133.75 114.95 L134.44 114.53 L135.12 114.11 L135.81 113.69 L136.50 113.27 L137.19 112.85 L137.87 112.43 L138.56 112.01 L139.25 111.59 L139.94 111.17 L140.62 110.75 L141.31 110.33 L142.00 109.91 L142.69 109.50 L143.37 109.08 L144.06 108.66 L144.75 108.24 L145.44 107.83 L146.12 107.41 L146.81 107.00 L147.50 106.58 L148.19 106.16 L148.87 105.75 L149.56 105.33 L150.25 104.92 L150.94 104.51 L151.62 104.09 L152.31 103.68 L153.00 103.27 L153.69 102.85 L154.37 102.44 L155.06 102.03 L155.75 101.62 L156.44 101.21 L157.12 100.80 L157.81 100.39 L158.50 99.98 L159.19 99.57 L159.87 99.16 L160.56 98.75 L161.25 98.34 L161.94 97.94 L162.62 97.53 L163.31 97.12 L164.00 96.72 L164.69 96.31 L165.37 95.91 L166.06 95.50 L166.75 95.10 L167.44 94.70 L168.12 94.30 L168.81 93.89 L169.50 93.49 L170.19 93.09 L170.87 92.69 L171.56 92.29 L172.25 91.90 L172.94 91.50 L173.62 91.10 L174.31 90.71 L175.00 90.31 L175.69 89.92 L176.37 89.52 L177.06 89.13 L177.75 88.74 L178.44 88.35 L179.12 87.95 L179.81 87.56 L180.50 87.18 L181.19 86.79 L181.87 86.40 L182.56 86.01 L183.25 85.63 L183.94 85.24 L184.62 84.86 L185.31 84.48 L186.00 84.10 L186.69 83.72 L187.37 83.34 L188.06 82.96 L188.75 82.58 L189.44 82.21 L190.12 81.83 L190.81 81.46 L191.50 81.08 L192.19 80.71 L192.87 80.34 L193.56 79.97 L194.25 79.60 L194.94 79.24 L195.62 78.87 L196.31 78.51 L197.00 78.14 L197.69 77.78 L198.37 77.42 L199.06 77.06 L199.75 76.71 L200.44 76.35 L201.12 76.00 L201.81 75.64 L202.50 75.29 L203.19 74.94 L203.87 74.59 L204.56 74.24 L205.25 73.90 L205.94 73.55 L206.62 73.21 L207.31 72.87 L208.00 72.53 L208.69 72.19 L209.37 71.86 L210.06 71.52 L210.75 71.19 L211.44 70.86 L212.12 70.53 L212.81 70.20 L213.50 69.88 L214.19 69.56 L214.87 69.23 L215.56 68.91 L216.25 68.60 L216.94 68.28 L217.62 67.97 L218.31 67.65 L219.00 67.34 L219.69 67.04 L220.37 66.73 L221.06 66.43 L221.75 66.13 L222.44 65.83 L223.12 65.53 L223.81 65.23 L224.50 64.94 L225.19 64.65 L225.87 64.36 L226.56 64.07 L227.25 63.79 L227.94 63.51 L228.62 63.23 L229.31 62.95 L230.00 62.67 L230.69 62.40 L231.37 62.13 L232.06 61.86 L232.75 61.59 L233.44 61.33 L234.12 61.07 L234.81 60.81 L235.50 60.55 L236.19 60.30 L236.87 60.05 L237.56 59.80 L238.25 59.55 L238.94 59.30 L239.62 59.06 L240.31 58.82 L241.00 58.58 L241.69 58.35 L242.37 58.12 L243.06 57.89 L243.75 57.66 L244.44 57.43 L245.12 57.21 L245.81 56.99 L246.50 56.77 L247.19 56.56 L247.87 56.35 L248.56 56.14 L249.25 55.93 L249.94 55.72 L250.62 55.52 L251.31 55.32 L252.00 55.12 L252.69 54.93 L253.37 54.73 L254.06 54.54 L254.75 54.36 L255.44 54.17 L256.12 53.99 L256.81 53.81 L257.50 53.63 L258.19 53.45 L258.87 53.28 L259.56 53.11 L260.25 52.94 L260.94 52.77 L261.62 52.61 L262.31 52.45 L263.00 52.29 L263.69 52.13 L264.37 51.98 L265.06 51.82 L265.75 51.67 L266.44 51.53 L267.12 51.38 L267.81 51.24 L268.50 51.10 L269.19 50.96 L269.87 50.82 L270.56 50.69 L271.25 50.55 L271.94 50.42 L272.62 50.29 L273.31 50.17 L274.00 50.04 L274.69 49.92 L275.37 49.80 L276.06 49.68 L276.75 49.57 L277.44 49.45 L278.12 49.34 L278.81 49.23 L279.50 49.12 L280.19 49.02 L280.87 48.91 L281.56 48.81 L282.25 48.71 L282.94 48.61 L283.62 48.51 L284.31 48.41 L285.00 48.32 L285.69 48.23 L286.37 48.14 L287.06 48.05 L287.75 47.96 L288.44 47.88 L289.12 47.79 L289.81 47.71 L290.50 47.63 L291.19 47.55 L291.87 47.47 L292.56 47.39 L293.25 47.32 L293.94 47.25 L294.62 47.17 L295.31 47.10 L296.00 47.03 L296.69 46.97 L297.37 46.90 L298.06 46.83 L298.75 46.77 L299.44 46.71 L300.12 46.65 L300.81 46.59 L301.50 46.53 L302.19 46.47 L302.87 46.41 L303.56 46.36 L304.25 46.30 L304.94 46.25 L305.62 46.20 L306.31 46.15 L307.00 46.10 L307.69 46.05 L308.37 46.00 L309.06 45.95 L309.75 45.91 L310.44 45.86 L311.12 45.82 L311.81 45.78 L312.50 45.74 L313.19 45.70 L313.87 45.66 L314.56 45.62 L315.25 45.58 L315.94 45.54 L316.62 45.50 L317.31 45.47 L318.00 45.43 L318.69 45.40 L319.37 45.37 L320.06 45.33 L320.75 45.30 L321.44 45.27 L322.12 45.24 L322.81 45.21 L323.50 45.18 L324.19 45.15 L324.87 45.13 L325.56 45.10 L326.25 45.07 L326.94 45.05 L327.62 45.02 L328.31 45.00 L329.00 44.97 L329.69 44.95 L330.37 44.93 L331.06 44.91 L331.75 44.89 L332.44 44.86 L333.12 44.84 L333.81 44.82 L334.50 44.80 L335.19 44.79 L335.87 44.77 L336.56 44.75 L337.25 44.73 L337.94 44.71 L338.62 44.70 L339.31 44.68 L340.00 44.67 L340.69 44.65 L341.37 44.64 L342.06 44.62 L342.75 44.61 L343.44 44.59 L344.12 44.58 L344.81 44.57 L345.50 44.56 L346.19 44.54 L346.87 44.53 L347.56 44.52 L348.25 44.51 L348.94 44.50 L349.62 44.49 L350.31 44.48 L351.00 44.47 L351.69 44.46 L352.37 44.45 L353.06 44.44 L353.75 44.43 L354.44 44.42 L355.12 44.41 L355.81 44.40 L356.50 44.39 L357.19 44.39 L357.87 44.38 L358.56 44.37 L359.25 44.36 L359.94 44.36 L360.62 44.35 L361.31 44.34 L362.00 44.34 L362.69 44.33 L363.37 44.33 L364.06 44.32 L364.75 44.31 L365.44 44.31 L366.12 44.30 L366.81 44.30 L367.50 44.29 L368.19 44.29 L368.87 44.28 L369.56 44.28 L370.25 44.27 L370.94 44.27 L371.62 44.26 L372.31 44.26 L373.00 44.26 L373.69 44.25 L374.37 44.25 L375.06 44.25 L375.75 44.24 L376.44 44.24 L377.12 44.23 L377.81 44.23 L378.50 44.23 L379.19 44.23 L379.87 44.22 L380.56 44.22 L381.25 44.22 L381.94 44.21 L382.62 44.21 L383.31 44.21 L384.00 44.21 L384.69 44.20 L385.37 44.20 L386.06 44.20 L386.75 44.20 L387.44 44.20 L388.12 44.19 L388.81 44.19 L389.50 44.19 L390.19 44.19 L390.87 44.19 L391.56 44.19 L392.25 44.19 L392.94 44.18 L393.62 44.18 L394.31 44.18 L395.00 44.18 L395.69 44.18 L396.37 44.18 L397.06 44.18 L397.75 44.18 L398.44 44.18 L399.12 44.18 L399.81 44.18 L400.50 44.18 L401.19 44.18 L401.87 44.18 L402.56 44.18 L403.25 44.18 L403.94 44.18 L404.62 44.18 L405.31 44.18 L406.00 44.19 L406.69 44.19 L407.37 44.19 L408.06 44.19 L408.75 44.19 L409.44 44.20 L410.12 44.20 L410.81 44.20 L411.50 44.21 L412.19 44.21 L412.87 44.21 L413.56 44.22 L414.25 44.22 L414.94 44.23 L415.62 44.24 L416.31 44.24 L417.00 44.25 L417.69 44.26 L418.37 44.27 L419.06 44.28 L419.75 44.28 L420.44 44.30 L421.12 44.31 L421.81 44.32 L422.50 44.33 L423.19 44.35 L423.87 44.36 L424.56 44.38 L425.25 44.40 L425.94 44.41 L426.62 44.43 L427.31 44.46 L428.00 44.48 L428.69 44.50 L429.37 44.53 L430.06 44.56 L430.75 44.59 L431.44 44.62 L432.12 44.66 L432.81 44.70 L433.50 44.74 L434.19 44.78 L434.87 44.83 L435.56 44.87 L436.25 44.93 L436.94 44.98 L437.62 45.04 L438.31 45.11 L439.00 45.18 L439.69 45.25 L440.37 45.33 L441.06 45.41 L441.75 45.50 L442.44 45.60 L443.12 45.70 L443.81 45.81 L444.50 45.92 L445.19 46.05 L445.87 46.18 L446.56 46.32 L447.25 46.46 L447.94 46.62 L448.62 46.79 L449.31 46.97 L450.00 47.16 L450.69 47.36 L451.37 47.57 L452.06 47.79 L452.75 48.03 L453.44 48.28 L454.12 48.55 L454.81 48.83 L455.50 49.12 L456.19 49.43 L456.87 49.76 L457.56 50.11 L458.25 50.47 L458.94 50.85 L459.62 51.25 L460.31 51.67 L461.00 52.11 L461.69 52.57 L462.37 53.05 L463.06 53.56 L463.75 54.08 L464.44 54.62 L465.12 55.19 L465.81 55.78 L466.50 56.39 L467.19 57.02 L467.87 57.68 L468.56 58.36 L469.25 59.06 L469.94 59.78 L470.62 60.52 L471.31 61.29 L472.00 62.08 L472.69 62.88 L473.37 63.71 L474.06 64.56 L474.75 65.43" stroke="#5e56b8" stroke-width="1.7" fill="none" stroke-linejoin="round"/>
<path d="M352.78 259.10 L353.06 258.56 L353.75 257.26 L354.44 255.96 L355.12 254.66 L355.81 253.36 L356.50 252.06 L357.19 250.76 L357.87 249.46 L358.56 248.16 L359.25 246.86 L359.94 245.56 L360.62 244.26 L361.31 242.96 L362.00 241.67 L362.69 240.37 L363.37 239.07 L364.06 237.77 L364.75 236.47 L365.44 235.18 L366.12 233.88 L366.81 232.58 L367.50 231.29 L368.19 229.99 L368.87 228.69 L369.56 227.40 L370.25 226.10 L370.94 224.80 L371.62 223.51 L372.31 222.21 L373.00 220.92 L373.69 219.62 L374.37 218.32 L375.06 217.03 L375.75 215.73 L376.44 214.44 L377.12 213.14 L377.81 211.85 L378.50 210.55 L379.19 209.26 L379.87 207.96 L380.56 206.67 L381.25 205.37 L381.94 204.08 L382.62 202.79 L383.31 201.49 L384.00 200.20 L384.69 198.90 L385.37 197.61 L386.06 196.31 L386.75 195.02 L387.44 193.73 L388.12 192.43 L388.81 191.14 L389.50 189.85 L390.19 188.55 L390.87 187.26 L391.56 185.97 L392.25 184.67 L392.94 183.38 L393.62 182.09 L394.31 180.80 L395.00 179.50 L395.69 178.21 L396.37 176.92 L397.06 175.63 L397.75 174.33 L398.44 173.04 L399.12 171.75 L399.81 170.46 L400.50 169.17 L401.19 167.87 L401.87 166.58 L402.56 165.29 L403.25 164.00 L403.94 162.71 L404.62 161.42 L405.31 160.13 L406.00 158.84 L406.69 157.55 L407.37 156.26 L408.06 154.97 L408.75 153.68 L409.44 152.39 L410.12 151.10 L410.81 149.81 L411.50 148.52 L412.19 147.24 L412.87 145.95 L413.56 144.66 L414.25 143.38 L414.94 142.09 L415.62 140.80 L416.31 139.52 L417.00 138.23 L417.69 136.95 L418.37 135.67 L419.06 134.38 L419.75 133.10 L420.44 131.82 L421.12 130.54 L421.81 129.26 L422.50 127.98 L423.19 126.70 L423.87 125.43 L424.56 124.15 L425.25 122.88 L425.94 121.60 L426.62 120.33 L427.31 119.06 L428.00 117.79 L428.69 116.53 L429.37 115.26 L430.06 114.00 L430.75 112.74 L431.44 111.48 L432.12 110.22 L432.81 108.97 L433.50 107.72 L434.19 106.47 L434.87 105.22 L435.56 103.98 L436.25 102.74 L436.94 101.51 L437.62 100.27 L438.31 99.05 L439.00 97.82 L439.69 96.61 L440.37 95.39 L441.06 94.18 L441.75 92.98 L442.44 91.79 L443.12 90.60 L443.81 89.41 L444.50 88.24 L445.19 87.07 L445.87 85.91 L446.56 84.75 L447.25 83.61 L447.94 82.47 L448.62 81.35 L449.31 80.24 L450.00 79.13 L450.69 78.04 L451.37 76.96 L452.06 75.89 L452.75 74.84 L453.44 73.80 L454.12 72.77 L454.81 71.76 L455.50 70.76 L456.19 69.78 L456.87 68.82 L457.56 67.87 L458.25 66.95 L458.94 66.04 L459.62 65.15 L460.31 64.27 L461.00 63.42 L461.69 62.59 L462.37 61.78 L463.06 60.99 L463.75 60.22 L464.44 59.47 L465.12 58.75 L465.81 58.04 L466.50 57.36 L467.19 56.71 L467.87 56.07 L468.56 55.46 L469.25 54.86 L469.94 54.29 L470.62 53.75 L471.31 53.22 L472.00 52.71 L472.69 52.23 L473.37 51.77 L474.06 51.33 L474.75 50.90" stroke="#1a1268" stroke-width="1.9" fill="none" stroke-linejoin="round"/>
<path d="M474.75 137.02 L475.44 137.91 L476.12 138.83 L476.81 139.76 L477.50 140.70 L478.19 141.67 L478.88 142.65 L479.56 143.65 L480.25 144.66 L480.94 145.69 L481.62 146.73 L482.31 147.79 L483.00 148.86 L483.69 149.94 L484.38 151.03 L485.06 152.14 L485.75 153.26 L486.44 154.38 L487.12 155.52 L487.81 156.66 L488.50 157.82 L489.19 158.98 L489.88 160.15 L490.56 161.33 L491.25 162.51 L491.94 163.71 L492.62 164.90 L493.31 166.11 L494.00 167.32 L494.69 168.53 L495.38 169.75 L496.06 170.98 L496.75 172.21 L497.44 173.44 L498.12 174.68 L498.81 175.92 L499.50 177.16 L500.19 178.41 L500.88 179.66 L501.56 180.91 L502.25 182.16 L502.94 183.42 L503.62 184.68 L504.31 185.94 L505.00 187.21 L505.69 188.48 L506.38 189.74 L507.06 191.01 L507.75 192.28 L508.44 193.56 L509.12 194.83 L509.81 196.10 L510.50 197.38 L511.19 198.66 L511.88 199.94 L512.56 201.22 L513.25 202.50 L513.94 203.78 L514.62 205.06 L515.31 206.34 L516.00 207.62 L516.69 208.91 L517.38 210.19 L518.06 211.48 L518.75 212.76 L519.44 214.05 L520.12 215.34 L520.81 216.62 L521.50 217.91 L522.19 219.20 L522.88 220.48 L523.56 221.77 L524.25 223.06 L524.94 224.35 L525.62 225.64 L526.31 226.93 L527.00 228.22 L527.69 229.51 L528.38 230.80 L529.06 232.09 L529.75 233.38 L530.44 234.67 L531.12 235.96 L531.81 237.25 L532.50 238.54 L533.19 239.83 L533.88 241.12 L534.56 242.41 L535.25 243.70 L535.94 244.99 L536.62 246.28 L537.31 247.58 L538.00 248.87 L538.69 250.16 L539.38 251.45 L540.06 252.74 L540.75 254.03 L541.44 255.32 L542.12 256.62 L542.81 257.91 L543.45 259.10" stroke="#8a5078" stroke-width="1.7" fill="none" stroke-linejoin="round" stroke-dasharray="5.4 3.0"/>
<path d="M474.75 220.71 L475.44 222.03 L476.12 223.37 L476.81 224.73 L477.50 226.10 L478.19 227.49 L478.88 228.90 L479.56 230.33 L480.25 231.77 L480.94 233.22 L481.62 234.69 L482.31 236.17 L483.00 237.67 L483.69 239.18 L484.38 240.70 L485.06 242.23 L485.75 243.77 L486.44 245.33 L487.12 246.89 L487.81 248.46 L488.50 250.05 L489.19 251.64 L489.88 253.23 L490.56 254.84 L491.25 256.45 L491.94 258.07 L492.37 259.10" stroke="#d8d060" stroke-width="1.7" fill="none" stroke-linejoin="round" stroke-dasharray="5.4 3.0"/>
<path d="M474.75 137.23 L475.44 138.12 L476.12 139.03 L476.81 139.96 L477.50 140.90 L478.19 141.86 L478.88 142.84 L479.56 143.83 L480.25 144.84 L480.94 145.87 L481.62 146.90 L482.31 147.96 L483.00 149.02 L483.69 150.10 L484.38 151.19 L485.06 152.29 L485.75 153.40 L486.44 154.53 L487.12 155.66 L487.81 156.80 L488.50 157.95 L489.19 159.11 L489.88 160.28 L490.56 161.46 L491.25 162.64 L491.94 163.83 L492.62 165.02 L493.31 166.22 L494.00 167.43 L494.69 168.64 L495.38 169.86 L496.06 171.08 L496.75 172.31 L497.44 173.54 L498.12 174.77 L498.81 176.01 L499.50 177.25 L500.19 178.50 L500.88 179.75 L501.56 181.00 L502.25 182.25 L502.94 183.51 L503.62 184.76 L504.31 186.02 L505.00 187.29 L505.69 188.55 L506.38 189.82 L507.06 191.09 L507.75 192.35 L508.44 193.63 L509.12 194.90 L509.81 196.17 L510.50 197.45 L511.19 198.72 L511.88 200.00 L512.56 201.28 L513.25 202.56 L513.94 203.84 L514.62 205.12 L515.31 206.40 L516.00 207.68 L516.69 208.96 L517.38 210.24 L518.06 211.53 L518.75 212.81 L519.44 214.10 L520.12 215.38 L520.81 216.67 L521.50 217.95 L522.19 219.24 L522.88 220.53 L523.56 221.81 L524.25 223.10 L524.94 224.39 L525.62 225.68 L526.31 226.97 L527.00 228.25 L527.69 229.54 L528.38 230.83 L529.06 232.12 L529.75 233.41 L530.44 234.70 L531.12 235.99 L531.81 237.28 L532.50 238.57 L533.19 239.86 L533.88 241.15 L534.56 242.44 L535.25 243.73 L535.94 245.02 L536.62 246.31 L537.31 247.60 L538.00 248.89 L538.69 250.18 L539.38 251.47 L540.06 252.77 L540.75 254.06 L541.44 255.35 L542.12 256.64 L542.81 257.93 L543.44 259.10" stroke="#6e4c66" stroke-width="1.7" fill="none" stroke-linejoin="round" stroke-dasharray="5.4 3.0"/>
<path d="M474.75 65.43 L475.44 66.32 L476.12 67.23 L476.81 68.15 L477.50 69.10 L478.19 70.06 L478.88 71.03 L479.56 72.03 L480.25 73.04 L480.94 74.06 L481.62 75.10 L482.31 76.15 L483.00 77.22 L483.69 78.30 L484.38 79.39 L485.06 80.49 L485.75 81.60 L486.44 82.72 L487.12 83.86 L487.81 85.00 L488.50 86.15 L489.19 87.31 L489.88 88.48 L490.56 89.65 L491.25 90.83 L491.94 92.02 L492.62 93.22 L493.31 94.42 L494.00 95.63 L494.69 96.84 L495.38 98.06 L496.06 99.28 L496.75 100.50 L497.44 101.74 L498.12 102.97 L498.81 104.21 L499.50 105.45 L500.19 106.69 L500.88 107.94 L501.56 109.19 L502.25 110.45 L502.94 111.70 L503.62 112.96 L504.31 114.22 L505.00 115.48 L505.69 116.75 L506.38 118.01 L507.06 119.28 L507.75 120.55 L508.44 121.82 L509.12 123.09 L509.81 124.37 L510.50 125.64 L511.19 126.92 L511.88 128.19 L512.56 129.47 L513.25 130.75 L513.94 132.03 L514.62 133.31 L515.31 134.59 L516.00 135.87 L516.69 137.16 L517.38 138.44 L518.06 139.72 L518.75 141.01 L519.44 142.29 L520.12 143.58 L520.81 144.86 L521.50 146.15 L522.19 147.44 L522.88 148.72 L523.56 150.01 L524.25 151.30 L524.94 152.59 L525.62 153.87 L526.31 155.16 L527.00 156.45 L527.69 157.74 L528.38 159.03 L529.06 160.32 L529.75 161.61 L530.44 162.90 L531.12 164.19 L531.81 165.48 L532.50 166.77 L533.19 168.06 L533.88 169.35 L534.56 170.64 L535.25 171.93 L535.94 173.22 L536.62 174.51 L537.31 175.80 L538.00 177.09 L538.69 178.38 L539.38 179.67 L540.06 180.96 L540.75 182.25 L541.44 183.54 L542.12 184.83 L542.81 186.13 L543.50 187.42" stroke="#8a88d4" stroke-width="1.7" fill="none" stroke-linejoin="round" stroke-dasharray="5.4 3.0"/>
<path d="M474.75 50.90 L475.44 50.50 L476.12 50.12 L476.81 49.75 L477.50 49.40 L478.19 49.07 L478.88 48.76 L479.56 48.46 L480.25 48.18 L480.94 47.91 L481.62 47.65 L482.31 47.41 L483.00 47.19 L483.69 46.98 L484.38 46.77 L485.06 46.58 L485.75 46.40 L486.44 46.24 L487.12 46.08 L487.81 45.93 L488.50 45.79 L489.19 45.65 L489.88 45.53 L490.56 45.41 L491.25 45.30 L491.94 45.20 L492.62 45.10 L493.31 45.01 L494.00 44.93 L494.69 44.85 L495.38 44.77 L496.06 44.70 L496.75 44.64 L497.44 44.58 L498.12 44.52 L498.81 44.47 L499.50 44.42 L500.19 44.37 L500.88 44.33 L501.56 44.28 L502.25 44.25 L502.94 44.21 L503.62 44.18 L504.31 44.15 L505.00 44.12 L505.69 44.09 L506.38 44.06 L507.06 44.04 L507.75 44.02 L508.44 44.00 L509.12 43.98 L509.81 43.96 L510.50 43.94 L511.19 43.92 L511.88 43.91 L512.56 43.90 L513.25 43.88 L513.94 43.87 L514.62 43.86 L515.31 43.85 L516.00 43.84 L516.69 43.83 L517.38 43.82 L518.06 43.81 L518.75 43.81 L519.44 43.80 L520.12 43.79 L520.81 43.79 L521.50 43.78 L522.19 43.77 L522.88 43.77 L523.56 43.77 L524.25 43.76 L524.94 43.76 L525.62 43.75 L526.31 43.75 L527.00 43.75 L527.69 43.74 L528.38 43.74 L529.06 43.74 L529.75 43.73 L530.44 43.73 L531.12 43.73 L531.81 43.73 L532.50 43.73 L533.19 43.72 L533.88 43.72 L534.56 43.72 L535.25 43.72 L535.94 43.72 L536.62 43.72 L537.31 43.72 L538.00 43.72 L538.69 43.71 L539.38 43.71 L540.06 43.71 L540.75 43.71 L541.44 43.71 L542.12 43.71 L542.81 43.71 L543.50 43.71" stroke="#4a4a98" stroke-width="1.7" fill="none" stroke-linejoin="round" stroke-dasharray="5.4 3.0"/>
<text x="28.6" y="46.70" text-anchor="end" class="tk">1</text>
<text x="28.6" y="89.76" text-anchor="end" class="tk">10<tspan dy="-3.2" font-size="6.2">−1</tspan></text>
<text x="28.6" y="132.82" text-anchor="end" class="tk">10<tspan dy="-3.2" font-size="6.2">−2</tspan></text>
<text x="28.6" y="175.88" text-anchor="end" class="tk">10<tspan dy="-3.2" font-size="6.2">−3</tspan></text>
<text x="28.6" y="218.94" text-anchor="end" class="tk">10<tspan dy="-3.2" font-size="6.2">−4</tspan></text>
<text x="28.6" y="262.00" text-anchor="end" class="tk">10<tspan dy="-3.2" font-size="6.2">−5</tspan></text>
<text x="50.60" y="272.0" text-anchor="middle" class="tk">10<tspan dy="-3.2" font-size="6.4">−9</tspan></text>
<text x="118.60" y="272.0" text-anchor="middle" class="tk">10<tspan dy="-3.2" font-size="6.4">−8</tspan></text>
<text x="199.85" y="272.0" text-anchor="middle" class="tk">10<tspan dy="-3.2" font-size="6.4">−4</tspan></text>
<text x="268.60" y="272.0" text-anchor="middle" class="tk">10<tspan dy="-3.2" font-size="6.4">−3</tspan></text>
<text x="337.35" y="272.0" text-anchor="middle" class="tk">10<tspan dy="-3.2" font-size="6.4">−2</tspan></text>
<text x="406.10" y="272.0" text-anchor="middle" class="tk">10<tspan dy="-3.2" font-size="6.4">−1</tspan></text>
<text x="474.75" y="272.0" text-anchor="middle" class="tk">1</text>
<text x="543.50" y="272.0" text-anchor="middle" class="tk">10</text>
<text transform="translate(56.60 221.50) rotate(-90)" class="vt" font-size="10.5" fill="#6a94cc" textLength="127.40" lengthAdjust="spacingAndGlyphs" stroke="#6a94cc" stroke-width="0.25">Primordial Nucleosynthesis</text>
<text transform="translate(263.20 228.00) rotate(-90)" class="vt" font-size="10.5" fill="#6e8ac8" textLength="66.10" lengthAdjust="spacingAndGlyphs" stroke="#6e8ac8" stroke-width="0.15">Recombination</text>
<text transform="translate(487.00 221.00) rotate(-90)" class="vt" font-size="11" fill="#6c7cc6" textLength="56.20" lengthAdjust="spacingAndGlyphs" stroke="#6c7cc6" stroke-width="0.2">Present Day</text>
<text transform="translate(455.20 174.00) rotate(-90)" class="vt" font-size="10" fill="#6a7cc0" textLength="20.10" lengthAdjust="spacingAndGlyphs" stroke="#6a7cc0" stroke-width="0.2"><tspan font-style="italic">ä</tspan> = 0</text>
<text transform="translate(242.5 218.2) rotate(-90)" class="vt" font-size="9.2" fill="#7484c6" stroke="#7484c6" stroke-width="0.1" textLength="38.4" lengthAdjust="spacingAndGlyphs"><tspan font-style="italic">ρ</tspan><tspan font-size="6" dy="1.8" font-style="italic">rel</tspan><tspan dy="-1.8"> = </tspan><tspan font-style="italic">ρ</tspan><tspan font-size="6" dy="1.8" font-style="italic">M</tspan></text>
<text x="266.4" y="286.3" class="axs" font-size="10.5" textLength="16.6" lengthAdjust="spacingAndGlyphs">a(t)</text>
<text transform="translate(8.4 146.0) rotate(-90)" class="ax" font-size="9.6" textLength="24.3" lengthAdjust="spacingAndGlyphs">ρ<tspan font-size="6.6" dy="1.5">i</tspan><tspan dy="-1.5">/ρ</tspan><tspan font-size="6.6" dy="1.5">tot</tspan></text>
<path d="M136.8 202.00 H153.7" stroke="#6642b6" stroke-width="1.6"/>
<text x="158.4" y="204.90" class="lg" font-size="8.4">ρ<tspan font-size="5.9" dy="1.2">γ + ν0 + νm</tspan></text>
<path d="M136.8 213.90 H153.7" stroke="#c8c03c" stroke-width="1.6"/>
<text x="158.4" y="216.80" class="lg" font-size="8.4">ρ<tspan font-size="5.9" dy="1.2">γ + ν0</tspan></text>
<path d="M136.8 225.70 H153.7" stroke="#705050" stroke-width="1.6"/>
<text x="158.4" y="228.60" class="lg" font-size="8.4">ρ<tspan font-size="5.9" dy="1.2">νm</tspan></text>
<path d="M136.8 237.20 H153.7" stroke="#6a64d0" stroke-width="1.6"/>
<text x="158.4" y="240.10" class="lg" font-size="8.4">ρ<tspan font-size="5.9" dy="1.2">M</tspan></text>
<path d="M136.8 248.60 H153.7" stroke="#161060" stroke-width="1.6"/>
<text x="158.4" y="251.50" class="lg" font-size="8.4">ρ<tspan font-size="5.9" dy="1.2">Λ</tspan></text>
</svg>
</body></html>
